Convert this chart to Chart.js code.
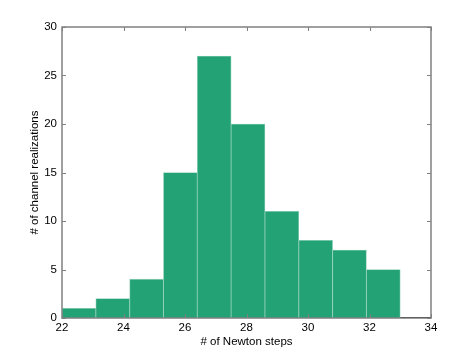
<!DOCTYPE html>
<html>
<head>
<meta charset="utf-8">
<script src="https://cdn.jsdelivr.net/npm/chart.js@4/dist/chart.umd.min.js"></script>
<style>
html,body{margin:0;padding:0;background:#fff;}
#wrap{width:476px;height:358px;}
</style>
</head>
<body>
<div id="wrap"><canvas id="c" width="476" height="358"></canvas></div>
<script>
// Histogram bin centers (bin width 1.1, from 22 to 33)
const binCenters = [22.55, 23.65, 24.75, 25.85, 26.95, 28.05, 29.15, 30.25, 31.35, 32.45];
const counts = [1, 2, 4, 15, 27, 20, 11, 8, 7, 5];
const xTicks = [22, 24, 26, 28, 30, 32, 34];
const yTicks = [0, 5, 10, 15, 20, 25, 30];
const xLabel = '# of Newton steps';
const yLabel = '# of channel realizations';

const FONT = 'Liberation Sans, Arial, Helvetica, sans-serif';

const framePlugin = {
  id: 'frame',
  beforeDatasetsDraw(chart) {
    const ctx = chart.ctx;
    const a = chart.chartArea;
    const ys = chart.scales.y;
    ctx.save();
    ctx.strokeStyle = '#000';
    ctx.lineWidth = 1.2;
    ctx.beginPath();
    const py = ys.getPixelForValue(0) - 0.5;
    ctx.moveTo(a.left, py);
    ctx.lineTo(a.right, py);
    ctx.stroke();
    ctx.restore();
  },
  afterDraw(chart) {
    const ctx = chart.ctx;
    const a = chart.chartArea;
    const xs = chart.scales.x, ys = chart.scales.y;
    ctx.save();
    ctx.strokeStyle = '#808080';
    ctx.lineWidth = 1.5;
    ctx.strokeRect(a.left, a.top, a.right - a.left, a.bottom - a.top);
    ctx.lineWidth = 1;
    const tl = 4;
    ctx.beginPath();
    xTicks.forEach(v => {
      const px = Math.round(xs.getPixelForValue(v)) + 0.5;
      ctx.moveTo(px, a.top); ctx.lineTo(px, a.top + tl);
      ctx.moveTo(px, a.bottom); ctx.lineTo(px, a.bottom - tl);
    });
    yTicks.forEach(v => {
      const py = Math.round(ys.getPixelForValue(v)) + 0.5;
      ctx.moveTo(a.left, py); ctx.lineTo(a.left + tl, py);
      ctx.moveTo(a.right, py); ctx.lineTo(a.right - tl, py);
    });
    ctx.stroke();
    ctx.restore();
  }
};

new Chart(document.getElementById('c'), {
  type: 'bar',
  data: {
    datasets: [{
      data: binCenters.map((x, i) => ({x: x, y: counts[i]})),
      backgroundColor: '#22a275',
      borderColor: '#8fd0b6',
      borderWidth: 0.8,
      barPercentage: 1.0,
      categoryPercentage: 1.0
    }]
  },
  options: {
    responsive: false,
    animation: false,
    events: [],
    layout: { padding: { top: 27, right: 45, left: 0, bottom: 0 } },
    plugins: { legend: { display: false }, tooltip: { enabled: false } },
    scales: {
      x: {
        type: 'linear',
        offset: false,
        min: 22, max: 34,
        afterFit(s) { s.height = 40; },
        afterBuildTicks(s) { s.ticks = xTicks.map(v => ({value: v})); },
        grid: { display: false, drawTicks: false, offset: false },
        border: { display: false },
        ticks: { color: '#000', padding: 3, maxRotation: 0, font: { family: FONT, size: 11.5 } },
        title: { display: true, text: xLabel, color: '#000', font: { family: FONT, size: 11.5 }, padding: { top: 0, bottom: 9 } }
      },
      y: {
        type: 'linear',
        min: 0, max: 30,
        afterFit(s) { s.width = 62; },
        afterBuildTicks(s) { s.ticks = yTicks.map(v => ({value: v})); },
        grid: { display: false, drawTicks: false },
        border: { display: false },
        ticks: { color: '#000', padding: 5, font: { family: FONT, size: 11.5 } },
        title: { display: true, text: yLabel, color: '#000', font: { family: FONT, size: 11.5 }, padding: { top: 28, bottom: 0 } }
      }
    }
  },
  plugins: [framePlugin]
});
</script>
</body>
</html>
